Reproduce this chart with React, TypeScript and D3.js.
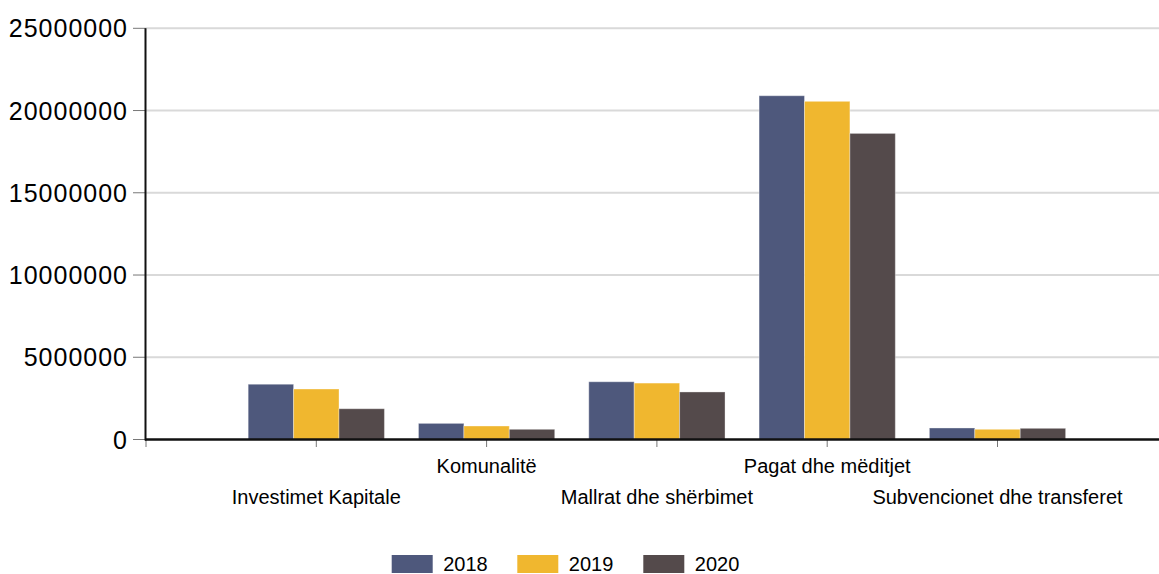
import React from "react";
import * as d3 from "d3";

const categories = ["Investimet Kapitale", "Komunalitë", "Mallrat dhe shërbimet", "Pagat dhe mëditjet", "Subvencionet dhe transferet"];
const years = ["2018", "2019", "2020"];
const values2018 = [3360000, 980000, 3510000, 20900000, 700000];
const values2019 = [3070000, 820000, 3430000, 20560000, 620000];
const values2020 = [1870000, 620000, 2890000, 18610000, 680000];
const yTicks = [0, 5000000, 10000000, 15000000, 20000000, 25000000];
const colors = ["#4e587c", "#f0b72f", "#544a4b"];

const W = 1159, H = 574;
const left = 146, right = 1159, top = 28.3, bottom = 439.5;

export default function App() {
  const series = [values2018, values2019, values2020];
  const x = d3.scalePoint<string>().domain(["", ...categories]).range([left, 997.5]);
  const step = x.step();
  const sub = d3.scaleBand<string>().domain(years).range([-step * 0.4, step * 0.4]);
  const y = d3.scaleLinear().domain([0, 25000000]).range([bottom, top]);
  const font = "'Liberation Sans', Arial, sans-serif";
  const legendX = [391.7, 517.3, 643.3];

  return (
    <svg width={W} height={H} style={{ position: "absolute", left: 0, top: 0 }} fontFamily={font}>
      <rect width={W} height={H} fill="#fff" />
      {yTicks.map((t) => (
        <g key={t}>
          {t > 0 && <line x1={left} x2={right} y1={y(t)} y2={y(t)} stroke="#d9d9d9" strokeWidth={2} />}
          <line x1={133} x2={left} y1={y(t)} y2={y(t)} stroke="#777" strokeWidth={1} />
          <text x={128} y={y(t)} dy="0.36em" textAnchor="end" fontSize={25} letterSpacing={1} fill="#000">
            {String(t)}
          </text>
        </g>
      ))}
      {categories.map((c, i) =>
        years.map((yr, j) => {
          const v = series[j][i];
          const bx = (x(c) as number) + (sub(yr) as number);
          return (
            <rect key={c + yr} x={bx} y={y(v)} width={sub.bandwidth()} height={bottom - y(v)}
              fill={colors[j]} stroke="#ffffff" strokeOpacity={0.35} strokeWidth={1} />
          );
        })
      )}
      {x.domain().map((c) => (
        <line key={"t" + c} x1={x(c)} x2={x(c)} y1={bottom} y2={447} stroke="#777" strokeWidth={1} />
      ))}
      <line x1={145.5} x2={145.5} y1={top} y2={bottom + 1} stroke="#111" strokeWidth={2} />
      <line x1={145} x2={right} y1={bottom} y2={bottom} stroke="#111" strokeWidth={2.5} />
      {categories.map((c, i) => (
        <text key={"l" + c} x={x(c)} y={i % 2 === 1 ? 473 : 504} textAnchor="middle" fontSize={20} fill="#000">
          {c}
        </text>
      ))}
      {years.map((yr, j) => (
        <g key={"lg" + yr}>
          <rect x={legendX[j]} y={555} width={41} height={18} fill={colors[j]} />
          <text x={legendX[j] + 51.5} y={571} fontSize={20} fill="#000">{yr}</text>
        </g>
      ))}
    </svg>
  );
}
